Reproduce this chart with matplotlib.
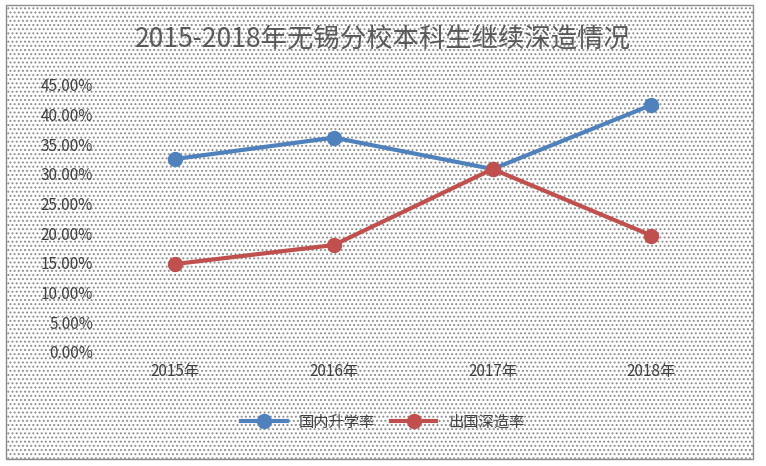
import matplotlib.pyplot as plt
from matplotlib.patches import Rectangle

plt.rcParams['font.family'] = ['Noto Sans CJK SC', 'DejaVu Sans']
plt.rcParams['hatch.color'] = '#6e8cbf'
plt.rcParams['hatch.linewidth'] = 0.9

years = ['2015年', '2016年', '2017年', '2018年']
domestic = [32.5, 36.1, 30.8, 41.6]
abroad = [14.8, 18.0, 30.8, 19.6]
yticks = [0, 5, 10, 15, 20, 25, 30, 35, 40, 45]

fig = plt.figure(figsize=(7.66, 4.66), dpi=100)
fig.patch.set_facecolor('white')
# dotted chart area with border
bg = Rectangle((0.008, 0.015), 0.975, 0.975, transform=fig.transFigure,
               facecolor='white', edgecolor='#8c8c8c', hatch='....', lw=1, zorder=-1)
fig.patches.append(bg)

ax = fig.add_axes([0.125, 0.245, 0.829, 0.573])
ax.patch.set_alpha(0)
x = range(len(years))
ax.plot(x, domestic, color='#4f81bd', lw=3, marker='o', ms=10, label='国内升学率')
ax.plot(x, abroad, color='#c0504d', lw=3, marker='o', ms=10, label='出国深造率')
ax.set_xlim(-0.5, 3.5)
ax.set_ylim(0, 45)
ax.set_yticks(yticks)
ax.set_yticklabels([f'{v:.2f}%' for v in yticks], fontsize=11, color='#404040')
ax.set_xticks(list(x))
ax.set_xticklabels(years, fontsize=11, color='#404040')
for s in ax.spines.values():
    s.set_visible(False)
ax.tick_params(length=0, pad=8)
ax.tick_params(axis='y', pad=2)

fig.text(0.5, 0.915, '2015-2018年无锡分校本科生继续深造情况', ha='center', va='center',
         fontsize=19, color='#595959')
fig.legend(loc='center', bbox_to_anchor=(0.5, 0.094), ncol=2, frameon=False,
           fontsize=11, handlelength=3, columnspacing=1.0, labelcolor='#404040')
fig.savefig('out.png', dpi=100)
